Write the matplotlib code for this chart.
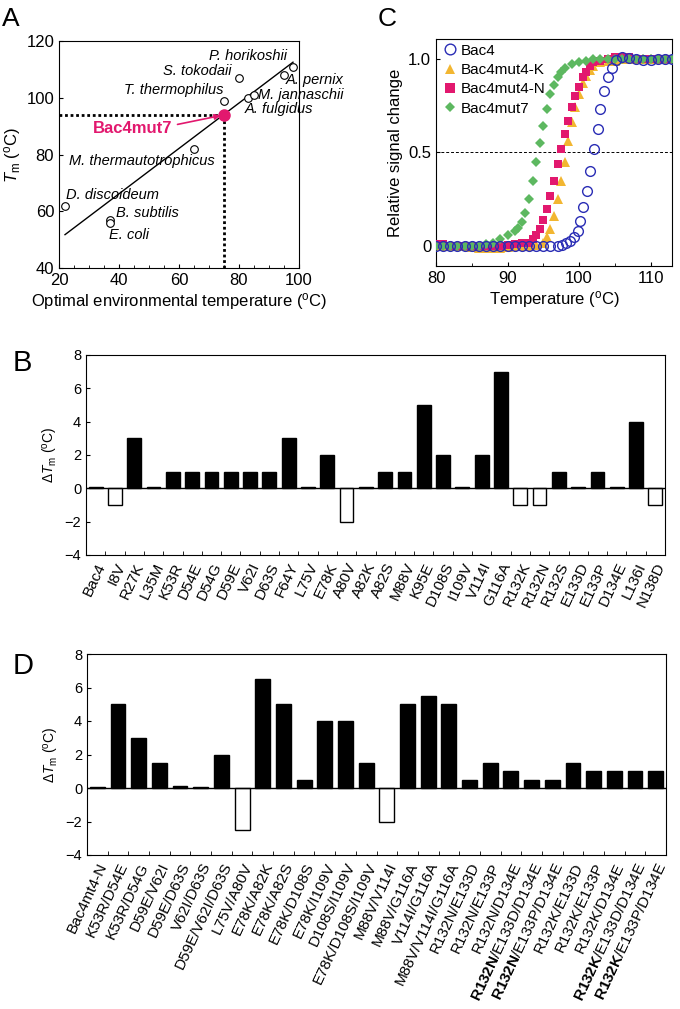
import matplotlib
matplotlib.use('Agg')
import matplotlib.pyplot as plt
import numpy as np
from matplotlib.ticker import MultipleLocator, FixedLocator

plt.rcParams['font.family'] = ['Liberation Sans', 'DejaVu Sans']
plt.rcParams['mathtext.fontset'] = 'custom'
plt.rcParams['mathtext.rm'] = 'Liberation Sans'
plt.rcParams['mathtext.it'] = 'Liberation Sans:italic'
plt.rcParams['mathtext.bf'] = 'Liberation Sans:bold'

# ---------------- Panel A data ----------------
org_names = ['D. discoideum', 'B. subtilis', 'E. coli', 'M. thermautotrophicus',
             'T. thermophilus', 'S. tokodaii', 'A. fulgidus', 'M. jannaschii',
             'A. pernix', 'P. horikoshii']
org_temp = [22, 37, 37, 65, 75, 80, 83, 85, 95, 98]
org_tm = [62, 57, 56, 82, 99, 107, 100, 101, 108, 111]
mut7_temp = 75
mut7_tm = 94

# ---------------- Panel C data ----------------
bac4_T = [80, 81, 82, 83, 84, 85, 86, 87, 88, 89, 90, 91, 92, 93, 94, 95, 96, 97,
          97.6, 98.2, 98.7, 99.3, 99.8, 100.2, 100.6, 101.1, 101.6, 102.1, 102.6,
          103.0, 103.5, 104.0, 104.6, 105.2, 106.0, 107.0, 108.0, 109.0, 110.0,
          111.0, 112.0, 113.0]
bac4_y = [0, 0, 0, 0, 0, 0, 0, 0, 0, 0, 0, 0, 0, 0, 0, 0, 0, 0.004,
          0.008, 0.015, 0.028, 0.048, 0.084, 0.133, 0.208, 0.297, 0.40, 0.516, 0.626,
          0.73, 0.827, 0.904, 0.952, 0.993, 1.01, 1.006, 0.997, 0.993, 0.993,
          0.997, 0.997, 0.997]

mutK_T = [80, 81, 82, 83, 84, 85, 86, 87, 88, 89, 90, 91, 92, 93, 94, 95, 95.5, 96,
          96.5, 97, 97.5, 98, 98.5, 99, 99.5, 100, 100.5, 101, 101.5, 102, 103, 104,
          105, 106, 107, 108, 109, 110, 111, 112, 113]
mutK_y = [0, 0, 0, 0, 0, -0.005, -0.01, -0.01, -0.01, -0.01, -0.005, 0, 0, 0, 0.005,
          0.02, 0.05, 0.09, 0.16, 0.25, 0.35, 0.45, 0.56, 0.66, 0.74, 0.81, 0.87,
          0.91, 0.94, 0.96, 0.98, 0.99, 0.99, 1.0, 1.0, 1.0, 1.0, 1.0, 1.0, 1.0, 1.0]

mutN_T = [80, 81, 82, 83, 84, 85, 86, 87, 88, 89, 90, 91, 92, 93, 93.5, 94, 94.5,
          95, 95.5, 96, 96.5, 97, 97.5, 98, 98.5, 99, 99.5, 100, 100.5, 101, 101.5,
          102, 103, 104, 105, 106, 107, 108, 109, 110, 111, 112, 113]
mutN_y = [0.01, 0.01, 0.0, 0, 0, 0, 0, 0, 0, 0, 0.005, 0.01, 0.015, 0.02, 0.04,
          0.06, 0.09, 0.14, 0.2, 0.27, 0.35, 0.44, 0.52, 0.6, 0.67, 0.74, 0.8,
          0.85, 0.9, 0.93, 0.96, 0.98, 0.99, 1.0, 1.01, 1.01, 1.01, 1.0, 1.0, 1.0,
          1.0, 1.0, 1.0]

mut7_T = [80, 81, 82, 83, 84, 85, 86, 87, 88, 89, 90, 91, 91.5, 92, 92.5, 93, 93.5,
          94, 94.5, 95, 95.5, 96, 96.5, 97, 97.5, 98, 99, 100, 101, 102, 103, 104,
          105, 106, 107, 108, 109, 110, 111, 112, 113]
mut7_y = [0, 0, 0, 0, 0, 0, 0, 0.01, 0.02, 0.04, 0.06, 0.08, 0.10, 0.13, 0.18, 0.25,
          0.35, 0.45, 0.55, 0.64, 0.73, 0.81, 0.86, 0.90, 0.93, 0.95, 0.97, 0.985,
          0.99, 1.0, 1.0, 1.0, 1.0, 1.0, 1.0, 1.0, 1.0, 1.0, 1.0, 1.0, 1.0]

# ---------------- Panel B data ----------------
single_labels = ['Bac4', 'I8V', 'R27K', 'L35M', 'K53R', 'D54E', 'D54G', 'D59E',
                 'V62I', 'D63S', 'F64Y', 'L75V', 'E78K', 'A80V', 'A82K', 'A82S',
                 'M88V', 'K95E', 'D108S', 'I109V', 'V114I', 'G116A', 'R132K',
                 'R132N', 'R132S', 'E133D', 'E133P', 'D134E', 'L136I', 'N138D']
single_dtm = [0.08, -1, 3, 0.08, 1, 1, 1, 1, 1, 1, 3, 0.08, 2, -2, 0.08, 1, 1, 5, 2,
              0.08, 2, 7, -1, -1, 1, 0.08, 1, 0.08, 4, -1]

# ---------------- Panel D data ----------------
combo_labels = ['Bac4mt4-N', 'K53R/D54E', 'K53R/D54G', 'D59E/V62I', 'D59E/D63S',
                'V62I/D63S', 'D59E/V62I/D63S', 'L75V/A80V', 'E78K/A82K', 'E78K/A82S',
                'E78K/D108S', 'E78K/I109V', 'D108S/I109V', 'E78K/D108S/I109V',
                'M88V/V114I', 'M88V/G116A', 'V114I/G116A', 'M88V/V114I/G116A',
                'R132N/E133D', 'R132N/E133P', 'R132N/D134E',
                r'$\mathbf{R132N}$/E133D/D134E', r'$\mathbf{R132N}$/E133P/D134E',
                'R132K/E133D', 'R132K/E133P', 'R132K/D134E',
                r'$\mathbf{R132K}$/E133D/D134E', r'$\mathbf{R132K}$/E133P/D134E']
combo_dtm = [0.08, 5, 3, 1.5, 0.1, 0.08, 2, -2.5, 6.5, 5, 0.5, 4, 4, 1.5, -2, 5, 5.5,
             5, 0.5, 1.5, 1, 0.5, 0.5, 1.5, 1, 1, 1, 1]

MAGENTA = '#E2186E'
BLUE = '#2A2DB5'
YELLOW = '#F2B631'
GREEN = '#5DB860'
DEG = r'$^{\mathrm{o}}$C'

fig = plt.figure(figsize=(6.8, 10.09), dpi=100)
W, H = 680.0, 1009.0


def ax_rect(l, r, t, b):
    return [l / W, 1 - b / H, (r - l) / W, (b - t) / H]


# ================= Panel A =================
axA = fig.add_axes(ax_rect(59, 299, 41, 268))
fit = np.polyfit(org_temp, org_tm, 1)
fx = np.array([min(org_temp), max(org_temp)])
axA.plot(fx, np.polyval(fit, fx), color='black', lw=1, zorder=2)
axA.plot([20, mut7_temp], [mut7_tm, mut7_tm], color='black', ls=(0, (1, 1)), lw=2, zorder=2)
axA.plot([mut7_temp, mut7_temp], [40, mut7_tm], color='black', ls=(0, (1, 1)), lw=2, zorder=2)
axA.plot(org_temp, org_tm, 'o', mfc='white', mec='black', ms=5.5, mew=0.8, zorder=3)
axA.plot([mut7_temp], [mut7_tm], 'o', color=MAGENTA, ms=8, zorder=4)
axA.set_xlim(20, 100)
axA.set_ylim(40, 120)
axA.set_xticks([20, 40, 60, 80, 100])
axA.set_yticks([40, 60, 80, 100, 120])
axA.xaxis.set_minor_locator(MultipleLocator(5))
axA.tick_params(which='both', direction='in', labelsize=12, top=False, right=False)
axA.tick_params(which='major', length=3)
axA.tick_params(which='minor', length=2)
axA.set_xlabel('Optimal environmental temperature (' + DEG + ')', fontsize=12, labelpad=2)
axA.set_ylabel(r'$\mathit{T}_{\mathrm{m}}$ (' + DEG + ')', fontsize=12, labelpad=2)

label_pos = {
    'D. discoideum': (22.2, 65.8),
    'B. subtilis': (39.1, 59.3),
    'E. coli': (36.6, 51.7),
    'M. thermautotrophicus': (23.2, 77.7),
    'T. thermophilus': (41.6, 102.7),
    'S. tokodaii': (54.7, 109.5),
    'A. fulgidus': (82.0, 96.2),
    'M. jannaschii': (86.4, 101.1),
    'A. pernix': (95.6, 106.4),
    'P. horikoshii': (70.1, 114.6),
}
for name in org_names:
    x, y = label_pos[name]
    axA.text(x, y, name, fontsize=10.5, style='italic', ha='left', va='center',
             clip_on=False, zorder=5)
axA.text(31.3, 89.2, 'Bac4mut7', fontsize=12, fontweight='bold', color=MAGENTA,
         ha='left', va='center')
axA.annotate('', xy=(73.8, 93.7), xytext=(59.5, 90.6),
             arrowprops=dict(arrowstyle='-|>', color=MAGENTA, lw=1.2,
                             mutation_scale=8, shrinkA=0, shrinkB=0))

# ================= Panel C =================
axC = fig.add_axes(ax_rect(436, 672, 39, 266))
axC.axhline(0.5, color='black', ls='--', lw=0.7, dashes=(3, 2), zorder=1)
axC.plot(mutK_T, mutK_y, '^', color=YELLOW, ms=7, mew=0, ls='none', zorder=2,
         label='Bac4mut4-K')
axC.plot(mutN_T, mutN_y, 's', color=MAGENTA, ms=6, mew=0, ls='none', zorder=3,
         label='Bac4mut4-N')
axC.plot(mut7_T, mut7_y, 'D', color=GREEN, ms=5, mew=0, ls='none', zorder=4,
         label='Bac4mut7')
axC.plot(bac4_T, bac4_y, 'o', mfc='none', mec=BLUE, ms=7, mew=1.0, ls='none',
         zorder=5, label='Bac4')
axC.set_xlim(80, 113)
axC.set_ylim(-0.105, 1.105)
axC.set_xticks([80, 90, 100, 110])
axC.set_yticks([0, 0.5, 1.0])
axC.set_yticklabels(['0', '0.5', '1.0'])
axC.xaxis.set_minor_locator(MultipleLocator(5))
axC.tick_params(which='both', direction='in', labelsize=12, top=False, right=False)
axC.tick_params(which='major', length=3)
axC.tick_params(which='minor', length=2)
axC.set_xlabel('Temperature (' + DEG + ')', fontsize=12, labelpad=2)
axC.set_ylabel('Relative signal change', fontsize=12, labelpad=4)
h, l = axC.get_legend_handles_labels()
order = [3, 0, 1, 2]
axC.legend([h[i] for i in order], [l[i] for i in order], loc='upper left',
           frameon=False, fontsize=11, handletextpad=0.1, handlelength=1.2,
           borderaxespad=0.1, labelspacing=0.35, borderpad=0.2, markerscale=1.1)


# ================= Panels B & D =================
def bar_panel(ax, labels, values):
    xpos = np.arange(len(labels))
    colors = ['black' if v > 0 else 'white' for v in values]
    ax.bar(xpos, values, width=0.72, color=colors, edgecolor='black', lw=1, zorder=2)
    ax.axhline(0, color='black', lw=1, zorder=3)
    ax.set_xlim(-0.5, len(labels) - 0.5)
    ax.set_ylim(-4, 8)
    ax.set_yticks([-4, -2, 0, 2, 4, 6, 8])
    ax.set_yticklabels(['\u22124', '\u22122', '0', '2', '4', '6', '8'])
    ax.set_xticks(xpos)
    ax.set_xticklabels(labels, rotation=65, ha='right', rotation_mode='anchor',
                       fontsize=11)
    ax.xaxis.set_minor_locator(FixedLocator(np.arange(len(labels) + 1) - 0.5))
    ax.tick_params(axis='x', which='major', length=0, pad=4)
    ax.tick_params(axis='x', which='minor', direction='in', length=3, top=False)
    ax.tick_params(axis='y', which='major', direction='in', length=3, labelsize=10.5,
                   right=False)
    ax.set_ylabel(r'$\Delta\mathit{T}_{\mathrm{m}}$ (' + DEG + ')', fontsize=10, labelpad=3)


axB = fig.add_axes(ax_rect(86, 665, 355, 555))
bar_panel(axB, single_labels, single_dtm)
axD = fig.add_axes(ax_rect(87, 666, 654, 855))
bar_panel(axD, combo_labels, combo_dtm)

# Panel letters
fig.text(2 / W, 1 - 7 / H, 'A', fontsize=19, ha='left', va='top')
fig.text(378 / W, 1 - 7 / H, 'C', fontsize=19, ha='left', va='top')
fig.text(13 / W, 1 - 349 / H, 'B', fontsize=21, ha='left', va='top')
fig.text(13 / W, 1 - 652 / H, 'D', fontsize=21, ha='left', va='top')

fig.savefig('out.png', dpi=100)
